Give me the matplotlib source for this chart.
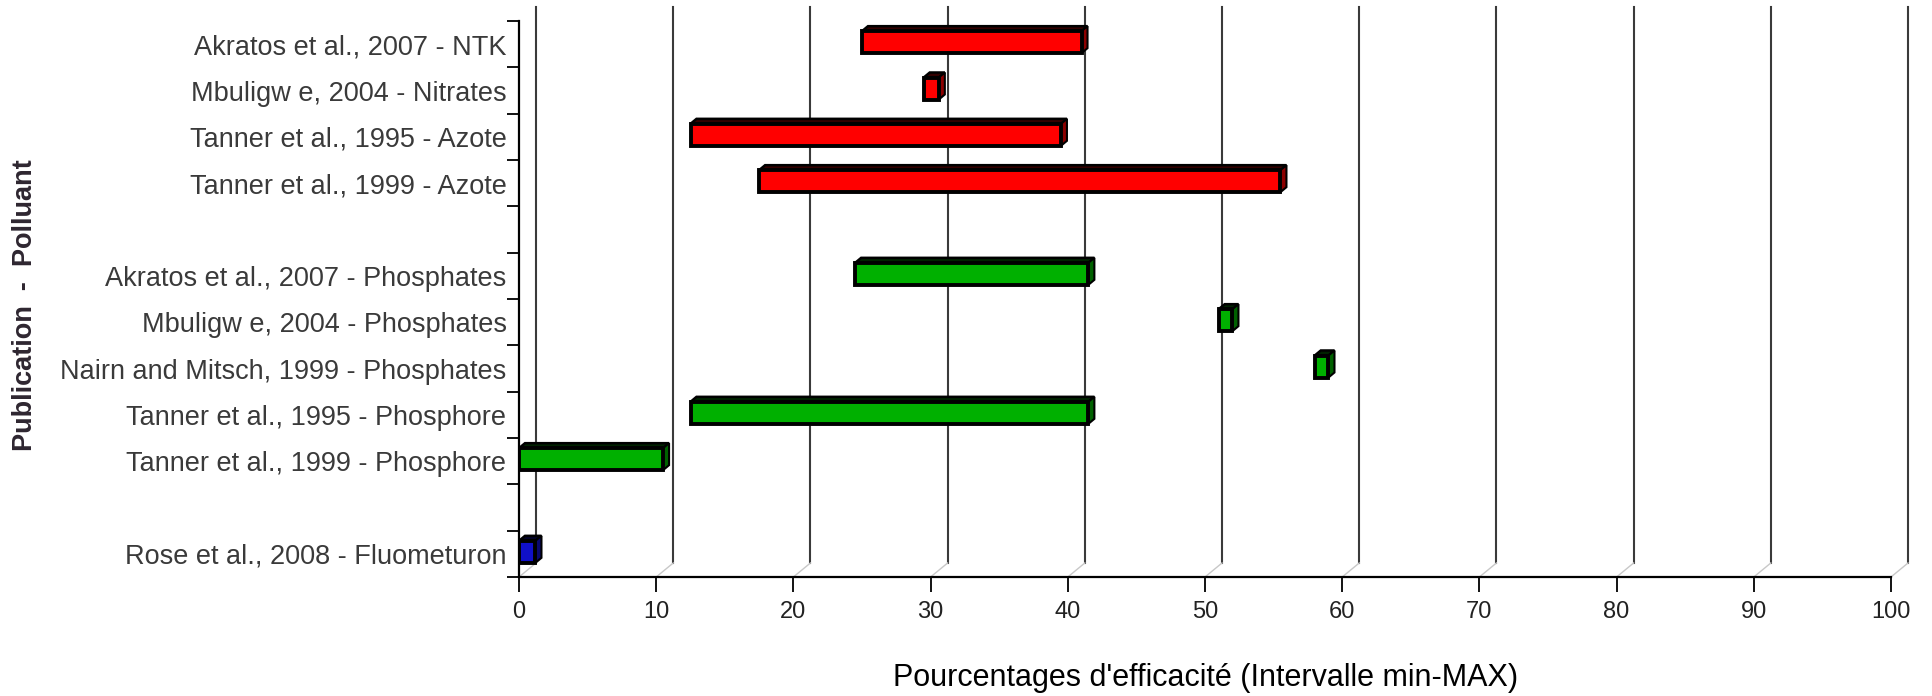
import matplotlib
matplotlib.use("Agg")
import matplotlib.pyplot as plt
from matplotlib.patches import Polygon, Rectangle
from matplotlib.lines import Line2D
import numpy as np

plt.rcParams['font.family'] = ['Liberation Sans', 'DejaVu Sans']

# ---------------- data ----------------
categories = [
    "Akratos et al., 2007 - NTK",
    "Mbuligw e, 2004 - Nitrates",
    "Tanner et al., 1995 - Azote",
    "Tanner et al., 1999 - Azote",
    "",
    "Akratos et al., 2007 - Phosphates",
    "Mbuligw e, 2004 - Phosphates",
    "Nairn and Mitsch, 1999 - Phosphates",
    "Tanner et al., 1995 - Phosphore",
    "Tanner et al., 1999 - Phosphore",
    "",
    "Rose et al., 2008 - Fluometuron",
]
min_vals = [25.0, 29.5, 12.5, 17.5, None, 24.5, 51.0, 58.0, 12.5, 0.0, None, 0.0]
max_vals = [41.0, 30.6, 39.5, 55.5, None, 41.5, 52.0, 59.0, 41.5, 10.5, None, 1.2]
groups = ["N", "N", "N", "N", None, "P", "P", "P", "P", "P", None, "F"]
group_colors = {"N": "#FF0000", "P": "#00B000", "F": "#1010C8"}
x_ticks = list(range(0, 101, 10))
x_label = "Pourcentages d'efficacité (Intervalle min-MAX)"
y_label = "Publication  -  Polluant"

# ---------------- figure ----------------
W, H, DPI = 1932, 696, 100
fig = plt.figure(figsize=(W / DPI, H / DPI), dpi=DPI)
ax_left, ax_right, ax_top, ax_bot = 519, 1891, 21, 577
ax = fig.add_axes([ax_left / W, 1 - ax_bot / H, (ax_right - ax_left) / W, (ax_bot - ax_top) / H])

n = len(categories)
ax.set_xlim(0, 100)
ax.set_ylim(n - 0.5, -0.5)

px_x = (ax_right - ax_left) / 100.0       # pixels per x unit
px_y = (ax_bot - ax_top) / n               # pixels per slot

# back-wall gridlines (3D depth offset)
gdx, gdy = 17 / px_x, 14 / px_y
for xv in x_ticks:
    ax.add_line(Line2D([xv + gdx, xv + gdx], [-0.5 - gdy, n - 0.5 - gdy],
                       color="#3a3a3a", lw=1.5, clip_on=False, zorder=1))
    ax.add_line(Line2D([xv, xv + gdx], [n - 0.5, n - 0.5 - gdy],
                       color="#c8c8c8", lw=1.0, clip_on=False, zorder=1))

# 3D bars
bdx, bdy = 6 / px_x, 5 / px_y
face_h = 22 / px_y
shift = -2.0 / px_y
for i, (lo, hi, g) in enumerate(zip(min_vals, max_vals, groups)):
    if lo is None:
        continue
    col = np.array(matplotlib.colors.to_rgb(group_colors[g]))
    yc = i + shift
    top = yc - face_h / 2
    bot = yc + face_h / 2
    ax.add_patch(Polygon([(lo, top), (hi, top), (hi + bdx, top - bdy), (lo + bdx, top - bdy)],
                         closed=True, facecolor=col * 0.2, edgecolor="black", lw=1.8, zorder=3))
    ax.add_patch(Polygon([(hi, top), (hi + bdx, top - bdy), (hi + bdx, bot - bdy), (hi, bot)],
                         closed=True, facecolor=col * 0.55, edgecolor="black", lw=1.5, zorder=3))
    ax.add_patch(Rectangle((lo, top), hi - lo, face_h, facecolor=col,
                           edgecolor="black", lw=2.8, zorder=4))

# axes styling
for s in ["top", "right"]:
    ax.spines[s].set_visible(False)
for s in ["left", "bottom"]:
    ax.spines[s].set_linewidth(1.6)
    ax.spines[s].set_color("black")
    ax.spines[s].set_zorder(5)

ax.set_xticks(x_ticks)
ax.set_xticklabels([str(v) for v in x_ticks], fontsize=17, color="#222222")
ax.tick_params(axis="x", direction="out", length=11, width=1.3, pad=6, colors="black",
               labelcolor="#222222")

ax.set_yticks(range(n))
ax.set_yticklabels(categories, fontsize=19.5, color="#3a3a3a")
ax.tick_params(axis="y", which="major", length=0, pad=9)
ax.set_yticks(np.arange(-0.5, n, 1.0), minor=True)
ax.tick_params(axis="y", which="minor", direction="out", length=8.5, width=1.3, colors="black")

fig.text(1206 / W, 1 - 678 / H, x_label, ha="center", va="center", fontsize=22, color="black")
fig.text(25 / W, 1 - 305 / H, y_label, ha="center", va="center", rotation=90,
         fontsize=19.5, fontweight="bold", color="#2e2630")

fig.savefig("out.png", dpi=DPI)
